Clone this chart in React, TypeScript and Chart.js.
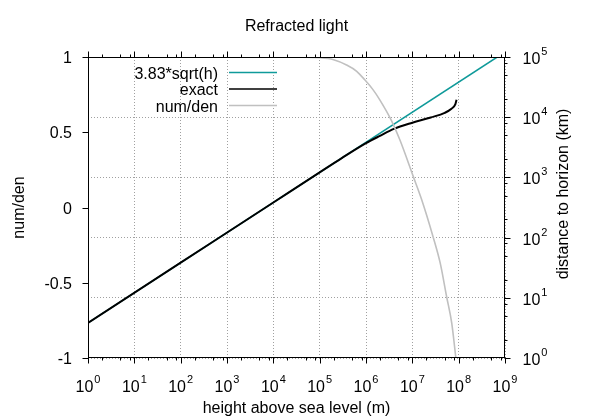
import { useEffect, useRef } from "react";
import Chart from "chart.js/auto";

// axis ticks
const heightDecades = [1, 1e1, 1e2, 1e3, 1e4, 1e5, 1e6, 1e7, 1e8, 1e9];
const heightExponents = ["0", "1", "2", "3", "4", "5", "6", "7", "8", "9"];
const distanceDecades = [1, 1e1, 1e2, 1e3, 1e4, 1e5];
const distanceExponents = ["0", "1", "2", "3", "4", "5"];
const ratioTicks = [-1, -0.5, 0, 0.5, 1];
const ratioTickLabels = ["-1", "-0.5", "0", "0.5", "1"];
const minorSteps = [2, 5, 8];

// 3.83*sqrt(h), distance in km
const sqrtHeights = [1, 6.8e8];
const sqrtDistances = [3.83, 1.0e5];

// exact, distance in km
const exactHeights = [1, 1e2, 1e4, 1e5, 3e5, 1e6, 2e6, 4e6, 1e7, 2.5e7, 5e7, 7e7, 8.5e7, 9e7];
const exactDistances = [3.83, 38.3, 383, 1211, 2090, 3700, 4900, 6400, 8100, 9900, 11800, 13800, 16500, 19500];

// num/den ratio
const ratioHeights = [1, 1e4, 3.2e4, 1e5, 2e5, 3.8e5, 6.3e5, 9.5e5, 1.4e6, 2e6, 3.5e6, 5.4e6, 1.05e7, 1.6e7, 2.8e7, 4e7, 5.5e7, 7.1e7, 8.7e7];
const ratioValues = [1, 1, 0.999, 0.995, 0.982, 0.947, 0.905, 0.847, 0.785, 0.714, 0.581, 0.448, 0.205, 0.05, -0.194, -0.37, -0.593, -0.77, -1.0];

const FAMILY = '"Liberation Sans", Arial, sans-serif';
const BASE_FONT = "16px " + FAMILY;
const EXP_FONT = "11px " + FAMILY;

function drawPower(ctx: CanvasRenderingContext2D, exp: string, x: number, baseline: number, centered: boolean) {
    ctx.font = BASE_FONT;
    const wb = ctx.measureText("10").width;
    ctx.font = EXP_FONT;
    const we = ctx.measureText(exp).width;
    const left = centered ? x - (wb + 1 + we) / 2 : x;
    ctx.textAlign = "left";
    ctx.font = BASE_FONT;
    ctx.fillText("10", left, baseline);
    ctx.font = EXP_FONT;
    ctx.fillText(exp, left + wb + 1, baseline - 9);
}

const gnuplotFrame = {
    id: "gnuplotFrame",
    afterDraw(chart: any) {
        const { ctx, chartArea: a, scales } = chart;
        const xs = scales.x, ys = scales.y, y2s = scales.y2;
        const L = Math.round(a.left) + 0.5, R = Math.round(a.right) - 0.5;
        const T = Math.round(a.top) + 0.5, B = Math.round(a.bottom) - 0.5;
        ctx.save();
        ctx.strokeStyle = "#000";
        ctx.fillStyle = "#000";
        ctx.lineWidth = 1;
        ctx.setLineDash([]);
        ctx.strokeRect(L, T, R - L, B - T);

        ctx.beginPath();
        // x ticks, bottom and top, outward
        heightDecades.forEach((v, i) => {
            const px = Math.round(xs.getPixelForValue(v)) + 0.5;
            ctx.moveTo(px, B); ctx.lineTo(px, B + 6);
            ctx.moveTo(px, T); ctx.lineTo(px, T - 6);
            if (i < heightDecades.length - 1) {
                minorSteps.forEach((m) => {
                    const mp = Math.round(xs.getPixelForValue(v * m)) + 0.5;
                    ctx.moveTo(mp, B); ctx.lineTo(mp, B + 3);
                    ctx.moveTo(mp, T); ctx.lineTo(mp, T - 3);
                });
            }
        });
        // left y ticks
        ratioTicks.forEach((v) => {
            const py = Math.round(ys.getPixelForValue(v)) + 0.5;
            ctx.moveTo(L, py); ctx.lineTo(L - 6, py);
        });
        // right y2 ticks
        distanceDecades.forEach((v, i) => {
            const py = Math.round(y2s.getPixelForValue(v)) + 0.5;
            ctx.moveTo(R, py); ctx.lineTo(R + 6, py);
            if (i < distanceDecades.length - 1) {
                minorSteps.forEach((m) => {
                    const mp = Math.round(y2s.getPixelForValue(v * m)) + 0.5;
                    ctx.moveTo(R, mp); ctx.lineTo(R + 3, mp);
                });
            }
        });
        ctx.stroke();

        // tick labels
        ctx.textBaseline = "alphabetic";
        heightDecades.forEach((v, i) => {
            drawPower(ctx, heightExponents[i], xs.getPixelForValue(v), 392, true);
        });
        distanceDecades.forEach((v, i) => {
            drawPower(ctx, distanceExponents[i], R + 18, y2s.getPixelForValue(v) + 7, false);
        });
        ctx.font = BASE_FONT;
        ctx.textAlign = "right";
        ratioTicks.forEach((v, i) => {
            ctx.fillText(ratioTickLabels[i], 72, ys.getPixelForValue(v) + 6);
        });

        // titles
        ctx.textAlign = "center";
        const cx = (a.left + a.right) / 2;
        ctx.fillText("Refracted light", cx, 31);
        ctx.fillText("height above sea level (m)", cx, 413);
        ctx.save();
        ctx.translate(24, (a.top + a.bottom) / 2);
        ctx.rotate(-Math.PI / 2);
        ctx.fillText("num/den", 0, 0);
        ctx.restore();
        ctx.save();
        ctx.translate(568, 194);
        ctx.rotate(-Math.PI / 2);
        ctx.fillText("distance to horizon (km)", 0, 0);
        ctx.restore();

        // key
        const rows = [78.5, 95, 111.5];
        chart.data.datasets.forEach((ds: any, i: number) => {
            ctx.font = BASE_FONT;
            ctx.textAlign = "right";
            ctx.fillStyle = "#000";
            ctx.fillText(ds.label, 218, rows[i]);
            ctx.strokeStyle = ds.borderColor;
            ctx.lineWidth = 1.6;
            ctx.beginPath();
            ctx.moveTo(229, rows[i] - 6);
            ctx.lineTo(277, rows[i] - 6);
            ctx.stroke();
        });
        ctx.restore();
    }
};

export default function App() {
    const canvasRef = useRef<HTMLCanvasElement | null>(null);
    const chartRef = useRef<Chart | null>(null);

    useEffect(() => {
        if (!canvasRef.current) return;
        if (chartRef.current) { chartRef.current.destroy(); }

        const gridColor = "#a0a0a0";

        chartRef.current = new Chart(canvasRef.current, {
            type: "line",
            data: {
                datasets: [
                    {
                        label: "3.83*sqrt(h)",
                        data: sqrtHeights.map((h, i) => ({ x: h, y: sqrtDistances[i] })),
                        yAxisID: "y2",
                        borderColor: "#0f9a9a",
                        borderWidth: 1.5,
                        pointRadius: 0,
                        order: 3,
                    },
                    {
                        label: "exact",
                        data: exactHeights.map((h, i) => ({ x: h, y: exactDistances[i] })),
                        yAxisID: "y2",
                        borderColor: "#000000",
                        borderWidth: 2,
                        pointRadius: 0,
                        cubicInterpolationMode: "monotone",
                        order: 2,
                    },
                    {
                        label: "num/den",
                        data: ratioHeights.map((h, i) => ({ x: h, y: ratioValues[i] })),
                        yAxisID: "y",
                        borderColor: "#c0c0c0",
                        borderWidth: 1.6,
                        pointRadius: 0,
                        cubicInterpolationMode: "monotone",
                        order: 1,
                    },
                ],
            },
            options: {
                responsive: true,
                maintainAspectRatio: false,
                animation: false,
                layout: { padding: { left: 88, right: 95, top: 57, bottom: 61 } },
                plugins: {
                    legend: { display: false },
                    title: { display: false },
                    tooltip: { enabled: false },
                },
                scales: {
                    x: {
                        type: "logarithmic",
                        min: 1,
                        max: 1e9,
                        afterBuildTicks: (axis: any) => {
                            axis.ticks = heightDecades.map((v) => ({ value: v }));
                        },
                        ticks: { display: false },
                        grid: { color: gridColor, lineWidth: 1, drawTicks: false },
                        border: { display: false, dash: [1, 2] },
                    },
                    y: {
                        type: "linear",
                        position: "left",
                        min: -1,
                        max: 1,
                        ticks: { display: false, stepSize: 0.5 },
                        grid: { display: false, drawTicks: false },
                        border: { display: false },
                    },
                    y2: {
                        type: "logarithmic",
                        position: "right",
                        min: 1,
                        max: 1e5,
                        afterBuildTicks: (axis: any) => {
                            axis.ticks = distanceDecades.map((v) => ({ value: v }));
                        },
                        ticks: { display: false },
                        grid: { color: gridColor, lineWidth: 1, drawTicks: false },
                        border: { display: false, dash: [1, 2] },
                    },
                },
            },
            plugins: [gnuplotFrame],
        } as any);

        return () => {
            if (chartRef.current) {
                chartRef.current.destroy();
                chartRef.current = null;
            }
        };
    }, []);

    return (
        <div style={{ position: "absolute", left: 0, top: 0, width: 600, height: 419, background: "#fff" }}>
            <canvas ref={canvasRef} />
        </div>
    );
}
